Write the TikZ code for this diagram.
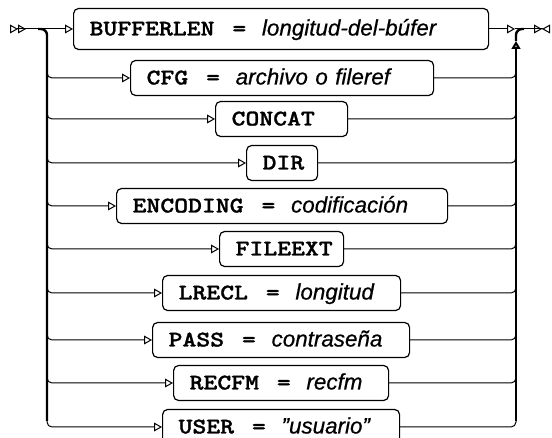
\documentclass[tikz,border=0pt]{standalone}
\usepackage{fontspec}
\setsansfont{Liberation Sans}[ItalicFeatures={FakeBold=0.6}]
\newfontfamily\kwfont{lmmonolt10-bold.otf}[FakeStretch=1.18,FakeBold=1.2]
\usetikzlibrary{arrows.meta}

\newcommand{\optkw}[1]{{\kwfont #1}}
\newcommand{\optval}[1]{{\sffamily\itshape #1}}
\newcommand{\opteq}{\optkw{\hspace{0.8em}=\hspace{0.7em}}}

\begin{document}
\begin{tikzpicture}[x=0.5pt,y=-0.5pt,
    opn/.tip={Triangle[open,length=4pt,width=4.4pt]},
    optbox/.style={draw=black,line width=0.6pt,rounded corners=2.5pt,
        fill=white,anchor=west,inner xsep=8pt,inner ysep=0pt,align=left,
        minimum height=17.5pt,text height=6.5pt,text depth=0pt,
        font=\fontsize{11.2}{13}\selectfont},
    branch/.style={draw=black,line width=0.5pt,rounded corners=2.5pt},
    rail/.style={draw=black,line width=1.2pt,rounded corners=3pt}
]
    \useasboundingbox (0,0) rectangle (552,438);

    \coordinate (start) at (10,29);
    \coordinate (join) at (515,29);
    \coordinate (merge) at (524,29);
    \coordinate (stop) at (550,29);
    \coordinate (lrail) at (38,29);
    \coordinate (lbot) at (47,421);
    \coordinate (rtop) at (516,41);
    \coordinate (rbot) at (516,421);

    % first option stays on the main line
    \pgfmathsetmacro{\w}{(488-73)/2-16}
    \node[optbox,minimum height=20.5pt,text width=\w pt] (buf) at (73,29)
        {\optkw{BUFFERLEN}\opteq\optval{longitud-del-búfer}};

    \draw[branch,{opn[reversed]opn[reversed]}-opn] (start) -- (buf.west);
    \draw[branch,-opn] (buf.east) -- (join);
    \draw[branch,-{opn[]opn[reversed]}] (join) -- (stop);

    \draw[rail] (lrail) -| (lbot);
    \draw[rail,-opn] (rbot) -- (rtop);
    \draw[rail] (rtop) |- (merge);

    \foreach \name/\l/\r/\y/\txt in {
        cfg/130/433/78/{\optkw{CFG}\opteq\optval{archivo o fileref}},
        concat/215/347/119/{\optkw{CONCAT}},
        dir/246/317/163/{\optkw{DIR}},
        enc/116/447/206/{\optkw{ENCODING}\opteq\optval{codificación}},
        fileext/219/343/249/{\optkw{FILEEXT}},
        lrecl/162/400/293/{\optkw{LRECL}\opteq\optval{longitud}},
        pass/152/409/340/{\optkw{PASS}\opteq\optval{contraseña}},
        recfm/173/388/383/{\optkw{RECFM}\opteq\optval{recfm}},
        user/162/399/427/{\optkw{USER}\opteq\optval{"usuario"}}} {
        \pgfmathsetmacro{\w}{(\r-\l)/2-16}
        \node[optbox,text width=\w pt] (\name) at (\l,\y) {\txt};
        \draw[branch,-opn] (47,\y-10) |- (\name.west);
        \draw[branch] (\name.east) -| (516,\y-10);
    }

\end{tikzpicture}
\end{document}
